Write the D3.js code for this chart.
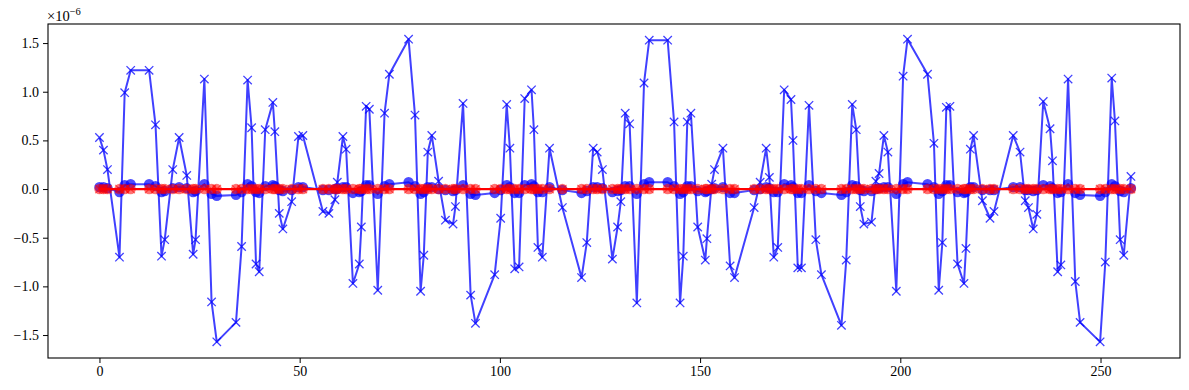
<!DOCTYPE html>
<html>
<head>
<meta charset="utf-8">
<script src="https://cdn.jsdelivr.net/npm/d3@7"></script>
<style>
  body { margin: 0; background: #fff; }
  svg text { font-family: 'Liberation Serif', 'DejaVu Serif', serif; fill: #000; }
</style>
</head>
<body>
<div id="chart"></div>
<script>
// sample positions (x axis)
const xs = [0,1,2,5,6.3,7.8,12.4,14,15.5,16.3,
  18.3,19.9,21.8,23.4,24,26.2,28,29.3,34.1,35.5,
  37,38,39.1,39.9,41.4,43.3,43.8,44.9,45.8,48,
  49.7,50.8,55.8,57.3,58.8,59.4,60.8,61.6,63.3,64.9,
  65.4,66.6,67.4,69.5,71.2,72.4,77.2,78.8,80.2,81,
  82,83,84.7,86.4,88.3,88.9,90.8,92.7,93.9,98.7,
  100.2,101.7,102.5,103.7,104.8,106.2,107.9,108.5,109.5,110.6,
  112.4,115.6,120.4,121.7,123.3,124.3,125.6,128.1,129.4,130.2,
  131.3,132.4,134.2,136,137.3,141.9,143.5,145,145.8,146.8,
  147.7,149.4,151.3,151.7,152.9,153.6,155.7,157.5,158.6,163.5,
  165,166.5,167.3,168.4,169.4,171,172.7,173.2,174.4,175.3,
  177.2,178.9,180.3,185.3,186.5,188,189,190,190.9,192.8,
  193.9,194.7,195.9,196.9,199,200.7,201.8,206.8,208.4,209.6,
  210.5,211.5,212.4,214.3,215.9,216.4,217.5,218.3,220.5,222.4,
  223.4,228.2,229.9,231.2,232,233.2,234.1,235.7,237.4,238,
  239.3,240.1,241.9,243.7,244.9,249.9,251.2,252.8,253.6,254.9,
  255.8,257.6];

// blue x series (units of 1e-6)
const trueVals = [0.53,0.40,0.20,-0.70,0.99,1.22,1.22,0.66,-0.69,-0.52,
  0.20,0.53,0.14,-0.67,-0.52,1.13,-1.16,-1.57,-1.37,-0.59,
  1.12,0.63,-0.77,-0.85,0.61,0.89,0.59,-0.25,-0.41,-0.13,
  0.54,0.55,-0.23,-0.25,-0.11,0.07,0.54,0.41,-0.97,-0.77,
  -0.39,0.85,0.82,-1.04,0.78,1.18,1.54,0.76,-1.05,-0.68,
  0.38,0.55,0.08,-0.32,-0.36,-0.18,0.88,-1.09,-1.38,-0.88,
  -0.30,0.87,0.42,-0.82,-0.80,0.93,1.02,0.61,-0.60,-0.70,
  0.42,-0.19,-0.91,-0.55,0.42,0.38,0.20,-0.72,-0.39,-0.13,
  0.78,0.67,-1.17,1.09,1.53,1.53,0.69,-1.17,-0.69,0.69,
  0.78,-0.39,-0.73,-0.51,0.05,0.20,0.42,-0.79,-0.91,-0.19,
  0.07,0.42,0.12,-0.70,-0.60,1.02,0.92,0.50,-0.81,-0.81,
  0.86,-0.52,-0.88,-1.40,-0.73,0.87,0.61,-0.18,-0.36,-0.34,
  0.08,0.16,0.55,0.38,-1.05,1.16,1.54,1.18,0.47,-1.04,
  -0.55,0.84,0.85,-0.77,-0.97,-0.61,0.41,0.55,-0.12,-0.30,
  -0.23,0.55,0.38,-0.12,-0.19,-0.41,-0.26,0.90,0.62,0.29,
  -0.85,-0.78,1.13,-0.95,-1.37,-1.57,-0.75,1.14,0.70,-0.52,
  -0.68,0.13];

// blue circle series
const predVals = [0.02,0.02,0.01,-0.03,0.04,0.05,0.05,0.03,-0.03,-0.02,
  0.01,0.02,0.01,-0.03,-0.02,0.05,-0.05,-0.07,-0.06,-0.03,
  0.05,0.03,-0.03,-0.04,0.03,0.04,0.03,-0.01,-0.02,-0.01,
  0.02,0.02,-0.01,-0.01,0.00,0.00,0.02,0.02,-0.04,-0.03,
  -0.02,0.04,0.04,-0.05,0.03,0.05,0.07,0.03,-0.05,-0.03,
  0.02,0.02,0.00,-0.01,-0.02,-0.01,0.04,-0.05,-0.06,-0.04,
  -0.01,0.04,0.02,-0.04,-0.04,0.04,0.05,0.03,-0.03,-0.03,
  0.02,-0.01,-0.04,-0.02,0.02,0.02,0.01,-0.03,-0.02,-0.01,
  0.03,0.03,-0.05,0.05,0.07,0.07,0.03,-0.05,-0.03,0.03,
  0.03,-0.02,-0.03,-0.02,0.00,0.01,0.02,-0.04,-0.04,-0.01,
  0.00,0.02,0.01,-0.03,-0.03,0.05,0.04,0.02,-0.04,-0.04,
  0.04,-0.02,-0.04,-0.06,-0.03,0.04,0.03,-0.01,-0.02,-0.02,
  0.00,0.01,0.02,0.02,-0.05,0.05,0.07,0.05,0.02,-0.05,
  -0.02,0.04,0.04,-0.03,-0.04,-0.03,0.02,0.02,-0.01,-0.01,
  -0.01,0.02,0.02,-0.01,-0.01,-0.02,-0.01,0.04,0.03,0.01,
  -0.04,-0.03,0.05,-0.04,-0.06,-0.07,-0.03,0.05,0.03,-0.02,
  -0.03,0.01];

// red series, sits on zero
const errVals = [0,0,0,0,0,0,0,0,0,0,
  0,0,0,0,0,0,0,0,0,0,
  0,0,0,0,0,0,0,0,0,0,
  0,0,0,0,0,0,0,0,0,0,
  0,0,0,0,0,0,0,0,0,0,
  0,0,0,0,0,0,0,0,0,0,
  0,0,0,0,0,0,0,0,0,0,
  0,0,0,0,0,0,0,0,0,0,
  0,0,0,0,0,0,0,0,0,0,
  0,0,0,0,0,0,0,0,0,0,
  0,0,0,0,0,0,0,0,0,0,
  0,0,0,0,0,0,0,0,0,0,
  0,0,0,0,0,0,0,0,0,0,
  0,0,0,0,0,0,0,0,0,0,
  0,0,0,0,0,0,0,0,0,0,
  0,0,0,0,0,0,0,0,0,0,
  0,0];

const xTicks = [0, 50, 100, 150, 200, 250];
const yTicks = [-1.5, -1.0, -0.5, 0.0, 0.5, 1.0, 1.5];

const W = 1189, H = 390;
const M = {left: 48, right: 9, top: 24, bottom: 32};
const BLUE = '#0000ff', RED = '#ff0000';

const svg = d3.select('#chart').append('svg')
  .attr('width', W).attr('height', H);

const x = d3.scaleLinear().domain([-12.85, 269.85]).range([M.left, W - M.right]);
const y = d3.scaleLinear().domain([-1.736, 1.696]).range([H - M.bottom, M.top]);

const pts = vals => xs.map((v, i) => [v, vals[i]]);
const line = d3.line().x(d => x(d[0])).y(d => y(d[1]));

function crossMarks(g, data, color, op) {
  const s = 4.2;
  g.selectAll(null).data(data).enter().append('path')
    .attr('d', d => {
      const cx = x(d[0]), cy = y(d[1]);
      return `M${cx - s},${cy - s}L${cx + s},${cy + s}M${cx - s},${cy + s}L${cx + s},${cy - s}`;
    })
    .attr('stroke', color).attr('stroke-width', 1.3)
    .attr('stroke-opacity', op).attr('fill', 'none');
}

function dotMarks(g, data, color, op) {
  g.selectAll(null).data(data).enter().append('circle')
    .attr('cx', d => x(d[0])).attr('cy', d => y(d[1])).attr('r', 5.2)
    .attr('fill', color).attr('fill-opacity', op);
}

const plot = svg.append('g');

// blue x line
plot.append('path').datum(pts(trueVals)).attr('d', line)
  .attr('fill', 'none').attr('stroke', BLUE).attr('stroke-width', 2)
  .attr('stroke-opacity', 0.75).attr('stroke-linejoin', 'round');
crossMarks(plot.append('g'), pts(trueVals), BLUE, 0.75);

// blue circle line
plot.append('path').datum(pts(predVals)).attr('d', line)
  .attr('fill', 'none').attr('stroke', BLUE).attr('stroke-width', 2)
  .attr('stroke-opacity', 0.7);
dotMarks(plot.append('g'), pts(predVals), BLUE, 0.7);

// red
plot.append('path').datum(pts(errVals)).attr('d', line)
  .attr('fill', 'none').attr('stroke', RED).attr('stroke-width', 2.2);
dotMarks(plot.append('g'), pts(errVals), RED, 0.55);
crossMarks(plot.append('g'), pts(errVals), RED, 0.5);

// axes
const fmt = d3.format('.1f');
const xAxis = svg.append('g')
  .attr('transform', `translate(0,${H - M.bottom})`)
  .call(d3.axisBottom(x).tickValues(xTicks).tickSize(5).tickPadding(3).tickSizeOuter(0));
const yAxis = svg.append('g')
  .attr('transform', `translate(${M.left},0)`)
  .call(d3.axisLeft(y).tickValues(yTicks).tickFormat(fmt).tickSize(5).tickPadding(4).tickSizeOuter(0));

[xAxis, yAxis].forEach(a => {
  a.select('.domain').remove();
  a.attr('font-family', null).attr('font-size', null);
  a.selectAll('line').attr('stroke', '#000').attr('stroke-width', 1);
  a.selectAll('text').style('font-size', '14px').style('font-family', "'Liberation Serif', serif");
});

svg.append('rect')
  .attr('x', M.left).attr('y', M.top)
  .attr('width', W - M.left - M.right).attr('height', H - M.top - M.bottom)
  .attr('fill', 'none').attr('stroke', '#000').attr('stroke-width', 1.1);

// offset text
const off = svg.append('text').attr('x', M.left - 1).attr('y', 20.5).style('font-size', '14.5px');
off.append('tspan').text('×10');
off.append('tspan').attr('dy', -6).style('font-size', '10.5px').text('−6');
</script>
</body>
</html>
